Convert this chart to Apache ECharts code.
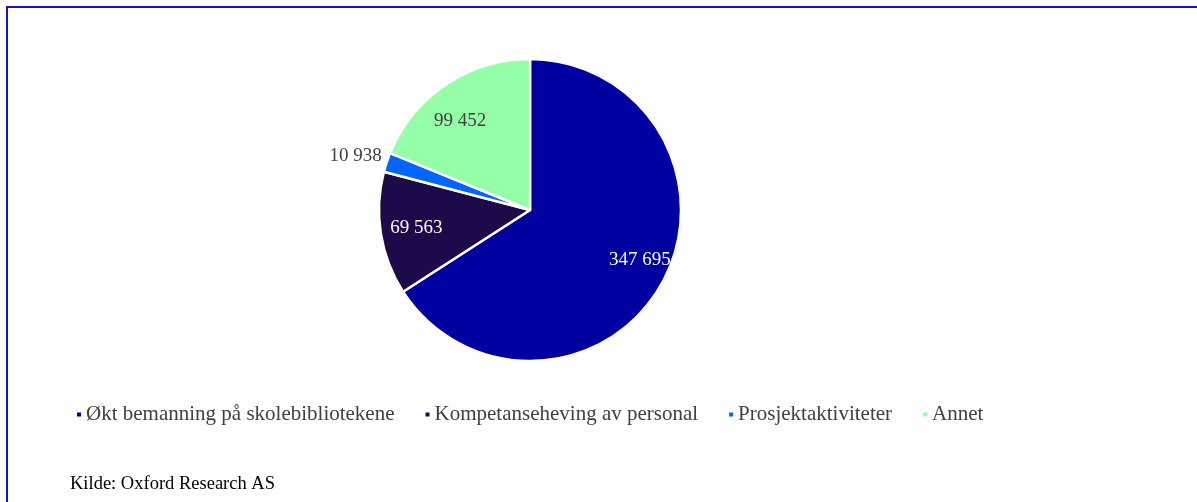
<!DOCTYPE html>
<html>
<head>
<meta charset="utf-8">
<script src="https://cdn.jsdelivr.net/npm/echarts@6/dist/echarts.min.js"></script>
<style>
    html, body { margin: 0; padding: 0; background: #fff; overflow: hidden; width: 1197px; height: 502px; }
    .rule { position: absolute; background: #1414c8; }
    #top-rule { left: 6px; top: 6px; width: 1191px; height: 2px; }
    #left-rule { left: 6px; top: 6px; width: 2px; height: 496px; }
    #chart { position: absolute; left: 0; top: 0; width: 1197px; height: 502px; }
</style>
</head>
<body>
<div class="rule" id="top-rule"></div>
<div class="rule" id="left-rule"></div>
<div id="chart"></div>
<script>
// kategorier og verdier
var categories = ['Økt bemanning på skolebibliotekene', 'Kompetanseheving av personal', 'Prosjektaktiviteter', 'Annet'];
var values = [347695, 69563, 10938, 99452];
var colors = ['#0000a0', '#1c0a4a', '#0066ff', '#94ffa6'];
var labelColors = ['#ffffff', '#ffffff', '#404040', '#404040'];
var labelOffsets = [[41, 12], [-36, 6], [-100, -29], [-26, -24]];

function fmt(v) {
    return String(v).replace(/\B(?=(\d{3})+(?!\d))/g, ' ');
}

var data = [];
for (var i = 0; i < categories.length; i++) {
    data.push({
        name: categories[i],
        value: values[i],
        itemStyle: { color: colors[i] },
        label: { color: labelColors[i], offset: labelOffsets[i] }
    });
}

var option = {
    animation: false,
    legend: {
        left: 70,
        top: 399,
        icon: 'rect',
        itemWidth: 6,
        itemHeight: 6,
        itemGap: 29,
        textStyle: { fontFamily: 'Liberation Serif', fontSize: 21, color: '#404040', padding: [0, 0, 0, -1] },
        data: categories
    },
    graphic: [{
        type: 'text',
        left: 70,
        top: 475,
        style: { text: 'Kilde: Oxford Research AS', font: '18.5px "Liberation Serif"', fill: '#000' }
    }],
    series: [{
        type: 'pie',
        center: [530, 210],
        radius: 151,
        startAngle: 90,
        clockwise: true,
        avoidLabelOverlap: false,
        itemStyle: { borderColor: '#fff', borderWidth: 2.5 },
        label: {
            show: true,
            position: 'inside',
            fontFamily: 'Liberation Serif',
            fontSize: 19,
            formatter: function (p) { return fmt(p.value); }
        },
        labelLine: { show: false },
        emphasis: { disabled: true },
        data: data
    }]
};

var myChart = echarts.init(document.getElementById('chart'));
myChart.setOption(option);
</script>
</body>
</html>
